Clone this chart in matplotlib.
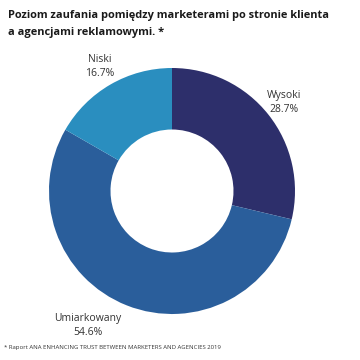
import matplotlib
matplotlib.use('Agg')
import matplotlib.pyplot as plt
import numpy as np

# dane
categories = ["Wysoki", "Umiarkowany", "Niski"]
values = [28.7, 54.6, 16.7]
colors = ["#2d2f6b", "#2a5e9b", "#2a8ebf"]

plt.rcParams['font.family'] = ['Open Sans', 'DejaVu Sans']

fig = plt.figure(figsize=(3.6, 3.6), dpi=100)
# srodek ~ (172,191) px, promien ~123 px
cx, cy, r = 172, 191, 123
ax = fig.add_axes([(cx - r) / 360, (360 - cy - r) / 360, 2 * r / 360, 2 * r / 360])

wedges, _ = ax.pie(values, colors=colors, startangle=90, counterclock=False,
                   radius=1, wedgeprops=dict(width=0.5, edgecolor='none'))
ax.set_xlim(-1, 1)
ax.set_ylim(-1, 1)
ax.set_aspect('equal')
ax.axis('off')

# etykiety: odleglosc od srodka i przesuniecie kata
label_dist = [1.16, 1.29, 1.17]
label_shift = [0, -10.5, 0]
for w, cat, v, d, s in zip(wedges, categories, values, label_dist, label_shift):
    ang = np.deg2rad((w.theta1 + w.theta2) / 2 + s)
    x, y = d * np.cos(ang), d * np.sin(ang)
    ax.text(x, y, f"{cat}\n{v}%", ha='center', va='center', fontsize=7.5,
            color='#333333', linespacing=1.4)

fig.text(8 / 360, 1 - 10 / 360,
         "Poziom zaufania pomiędzy marketerami po stronie klienta\na agencjami reklamowymi. *",
         ha='left', va='top', fontsize=7.95, fontweight='bold', color='#1a1a1a',
         linespacing=1.75)
fig.text(4 / 360, 1 - 348 / 360,
         "* Raport ANA ENHANCING TRUST BETWEEN MARKETERS AND AGENCIES 2019",
         ha='left', va='center', fontsize=4.3, color='#333333')

fig.savefig('out.png', dpi=100, facecolor='white')
